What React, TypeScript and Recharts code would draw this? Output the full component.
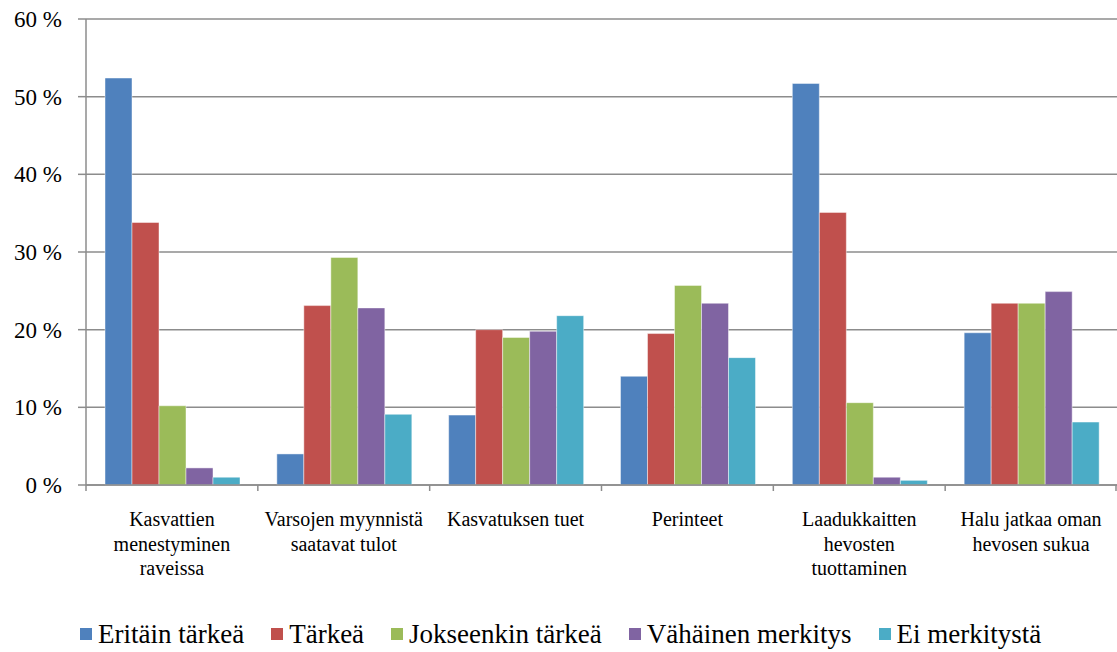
import React from 'react';
import { BarChart, Bar, XAxis, YAxis, CartesianGrid, Legend } from 'recharts';

const categories = [
  'Kasvattien\nmenestyminen\nraveissa',
  'Varsojen myynnistä\nsaatavat tulot',
  'Kasvatuksen tuet',
  'Perinteet',
  'Laadukkaitten\nhevosten\ntuottaminen',
  'Halu jatkaa oman\nhevosen sukua',
];
const seriesNames = ['Eritäin tärkeä', 'Tärkeä', 'Jokseenkin tärkeä', 'Vähäinen merkitys', 'Ei merkitystä'];
const eritainTarkea = [52.4, 4.0, 9.0, 14.0, 51.7, 19.6];
const tarkea = [33.8, 23.1, 20.0, 19.5, 35.1, 23.4];
const jokseenkinTarkea = [10.2, 29.3, 19.0, 25.7, 10.6, 23.4];
const vahainenMerkitys = [2.2, 22.8, 19.8, 23.4, 1.0, 24.9];
const eiMerkitysta = [1.0, 9.1, 21.8, 16.4, 0.6, 8.1];
const yTicks = [0, 10, 20, 30, 40, 50, 60];

const colors = ['#4F81BD', '#C0504D', '#9BBB59', '#8064A2', '#4BACC6'];
const seriesValues = [eritainTarkea, tarkea, jokseenkinTarkea, vahainenMerkitys, eiMerkitysta];
const keys = ['s0', 's1', 's2', 's3', 's4'];

const data = categories.map((c, i) => {
  const row: any = { name: c };
  seriesValues.forEach((vals, s) => {
    row[keys[s]] = vals[i];
  });
  return row;
});

const FONT = 'Liberation Serif';
const AXIS_COLOR = '#8c8c8c';

const CategoryTick = (props: any) => {
  const { x, y, payload, index } = props;
  const half = typeof payload?.offset === 'number' && payload.offset > 0 ? payload.offset : (1117 - 86) / 12;
  const lines = String(payload.value).split('\n');
  const last = index === categories.length - 1;
  return (
    <g>
      <line x1={x - half} y1={y} x2={x - half} y2={y + 6} stroke={AXIS_COLOR} strokeWidth={1.5} />
      {last && <line x1={x + half - 1} y1={y} x2={x + half - 1} y2={y + 6} stroke={AXIS_COLOR} strokeWidth={1.5} />}
      <text x={x} y={y + 41} textAnchor="middle" fontFamily={FONT} fontSize={20} fill="#000">
        {lines.map((l, i) => (
          <tspan key={i} x={x} dy={i === 0 ? 0 : 24.5}>
            {l}
          </tspan>
        ))}
      </text>
    </g>
  );
};

const renderLegend = () => (
  <div
    style={{
      display: 'flex',
      justifyContent: 'flex-start',
      alignItems: 'center',
      fontFamily: FONT,
      fontSize: 27,
      color: '#000',
      lineHeight: '30px',
      height: 30,
      whiteSpace: 'nowrap',
    }}
  >
    {seriesNames.map((n, i) => (
      <div key={n} style={{ display: 'flex', alignItems: 'center', marginRight: i < seriesNames.length - 1 ? 27 : 0 }}>
        <span style={{ display: 'inline-block', width: 12, height: 12, background: colors[i], marginRight: 6 }} />
        <span>{n}</span>
      </div>
    ))}
  </div>
);

export default function App() {
  return (
    <div style={{ position: 'absolute', left: 0, top: 0, width: 1117, height: 652, background: '#fff' }}>
      <BarChart
        width={1117}
        height={652}
        data={data}
        margin={{ top: 19, right: 0, bottom: 0, left: 0 }}
        barCategoryGap={19}
        barGap={0}
      >
        <CartesianGrid vertical={false} stroke={AXIS_COLOR} strokeWidth={1.5} />
        <XAxis
          dataKey="name"
          height={167}
          interval={0}
          tickSize={0}
          tickMargin={0}
          tickLine={false}
          axisLine={{ stroke: AXIS_COLOR, strokeWidth: 1.5 }}
          tick={<CategoryTick />}
        />
        <YAxis
          width={86}
          domain={[0, 60]}
          ticks={yTicks}
          interval={0}
          tickSize={8}
          tickMargin={16}
          tickFormatter={(v: number) => `${v} %`}
          axisLine={{ stroke: AXIS_COLOR, strokeWidth: 1.5 }}
          tickLine={{ stroke: AXIS_COLOR, strokeWidth: 1.5 }}
          tick={{ fontSize: 23, fill: '#000', fontFamily: FONT }}
        />
        <Legend
          layout="horizontal"
          verticalAlign="middle"
          align="center"
          content={renderLegend}
          wrapperStyle={{ top: 619, left: 80, width: 1030, height: 30 }}
        />
        {keys.map((k, i) => (
          <Bar
            key={k}
            dataKey={k}
            name={seriesNames[i]}
            fill={colors[i]}
            stroke="#ffffff"
            strokeOpacity={0.45}
            strokeWidth={1}
            isAnimationActive={false}
          />
        ))}
      </BarChart>
    </div>
  );
}
